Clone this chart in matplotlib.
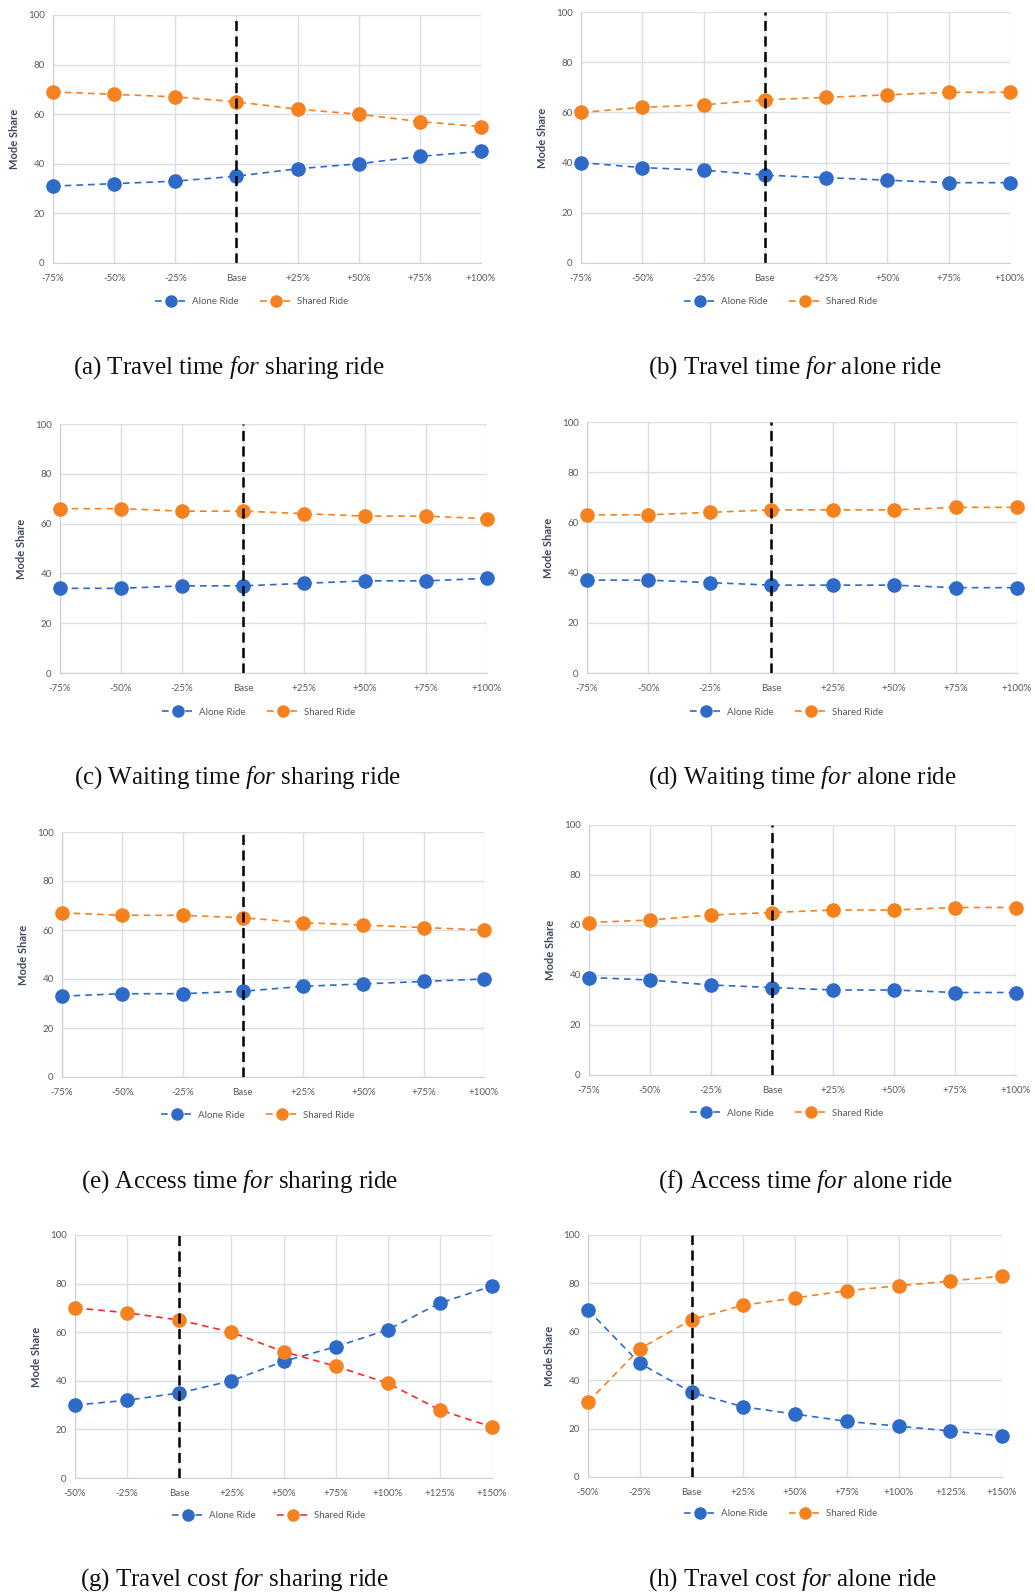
import matplotlib
matplotlib.use("Agg")
import matplotlib.pyplot as plt

# ---------------- data ----------------
labels_time = ["-75%", "-50%", "-25%", "Base", "+25%", "+50%", "+75%", "+100%"]
labels_cost = ["-50%", "-25%", "Base", "+25%", "+50%", "+75%", "+100%", "+125%", "+150%"]

a_alone = [31, 32, 33, 35, 38, 40, 43, 45]
a_shared = [69, 68, 67, 65, 62, 60, 57, 55]
b_alone = [40, 38, 37, 35, 34, 33, 32, 32]
b_shared = [60, 62, 63, 65, 66, 67, 68, 68]
c_alone = [34, 34, 35, 35, 36, 37, 37, 38]
c_shared = [66, 66, 65, 65, 64, 63, 63, 62]
d_alone = [37, 37, 36, 35, 35, 35, 34, 34]
d_shared = [63, 63, 64, 65, 65, 65, 66, 66]
e_alone = [33, 34, 34, 35, 37, 38, 39, 40]
e_shared = [67, 66, 66, 65, 63, 62, 61, 60]
f_alone = [39, 38, 36, 35, 34, 34, 33, 33]
f_shared = [61, 62, 64, 65, 66, 66, 67, 67]
g_alone = [30, 32, 35, 40, 48, 54, 61, 72, 79]
g_shared = [70, 68, 65, 60, 52, 46, 39, 28, 21]
h_alone = [69, 47, 35, 29, 26, 23, 21, 19, 17]
h_shared = [31, 53, 65, 71, 74, 77, 79, 81, 83]

captions = [
    ("(a) Travel time ", "sharing ride"),
    ("(b) Travel time ", "alone ride"),
    ("(c) Waiting time ", "sharing ride"),
    ("(d) Waiting time ", "alone ride"),
    ("(e) Access time ", "sharing ride"),
    ("(f) Access time ", "alone ride"),
    ("(g) Travel cost ", "sharing ride"),
    ("(h) Travel cost ", "alone ride"),
]

# ---------------- style ----------------
W, H = 1035, 1592
plt.rcParams["mathtext.fontset"] = "custom"
plt.rcParams["mathtext.rm"] = "Liberation Serif"
plt.rcParams["mathtext.it"] = "Liberation Serif:italic"

BLUE = "#2E6AC8"
ORANGE = "#F5821F"
RED = "#F52A2A"
GRID = "#D9DEE8"
TXT = "#595959"
UI_FONT = "Lato"

# pixel layout: (left, right, top, bottom), legend center (x, y), caption center (x, y)
layout = [
    ((53, 481, 15, 263), (252, 302), (229, 368)),
    ((581, 1010, 12, 263), (781, 302), (795, 368)),
    ((60, 487, 424, 673), (259, 712), (237, 778)),
    ((587, 1017, 422, 673), (787, 712), (802, 778)),
    ((62, 484, 832, 1077), (258, 1115), (240, 1182)),
    ((589, 1016, 825, 1075), (787, 1113), (805, 1182)),
    ((75, 492, 1235, 1478), (269, 1516), (234, 1580)),
    ((588, 1002, 1235, 1477), (781, 1514), (793, 1580)),
]

panels = [
    (labels_time, a_alone, a_shared, ORANGE),
    (labels_time, b_alone, b_shared, ORANGE),
    (labels_time, c_alone, c_shared, ORANGE),
    (labels_time, d_alone, d_shared, ORANGE),
    (labels_time, e_alone, e_shared, ORANGE),
    (labels_time, f_alone, f_shared, ORANGE),
    (labels_cost, g_alone, g_shared, RED),
    (labels_cost, h_alone, h_shared, ORANGE),
]

fig = plt.figure(figsize=(W / 100, H / 100), dpi=100)

for (labels, alone, shared, shared_line), (box, leg, cap), (cap1, cap2) in zip(panels, layout, captions):
    l, r, t, b = box
    ax = fig.add_axes([l / W, 1 - b / H, (r - l) / W, (b - t) / H])
    x = list(range(len(labels)))
    la, = ax.plot(x, alone, linestyle=(0, (4, 3)), color=BLUE, lw=1.2,
                  marker="o", markersize=9.5, markerfacecolor=BLUE,
                  markeredgecolor=BLUE, clip_on=False, zorder=3, label="Alone Ride")
    ls, = ax.plot(x, shared, linestyle=(0, (4, 3)), color=shared_line, lw=1.2,
                  marker="o", markersize=9.5, markerfacecolor=ORANGE,
                  markeredgecolor=ORANGE, clip_on=False, zorder=3, label="Shared Ride")
    base_idx = labels.index("Base")
    ax.axvline(base_idx, color="black", lw=1.8, linestyle=(0, (4, 2.2)), zorder=4)

    ax.set_xlim(0, len(labels) - 1)
    ax.set_ylim(0, 100)
    ax.set_yticks([0, 20, 40, 60, 80, 100])
    ax.set_xticks(x)
    ax.set_xticklabels(labels)
    ax.grid(True, color=GRID, lw=1.0)
    ax.set_axisbelow(True)
    for s in ("top", "right"):
        ax.spines[s].set_visible(False)
    ax.spines["left"].set_color("#C8D0DE")
    ax.spines["bottom"].set_color("#CDD2DA")
    ax.tick_params(axis="x", length=0, labelsize=7, labelcolor=TXT, pad=8)
    ax.tick_params(axis="y", length=0, labelsize=7, labelcolor=TXT, pad=6)
    for lab in ax.get_xticklabels() + ax.get_yticklabels():
        lab.set_fontfamily(UI_FONT)
    ax.set_ylabel("Mode Share", fontsize=8, fontweight="bold", color="#3E4A5E",
                  fontfamily=UI_FONT, labelpad=6)

    leg_obj = fig.legend(handles=[la, ls], loc="center",
                         bbox_to_anchor=(leg[0] / W, 1 - leg[1] / H),
                         ncol=2, frameon=False, handlelength=3.2,
                         columnspacing=2.2, handletextpad=0.6,
                         prop={"family": UI_FONT, "size": 7})
    for txt in leg_obj.get_texts():
        txt.set_color(TXT)
    for h in leg_obj.legend_handles:
        h.set_markersize(8)

    fig.text(cap[0] / W, 1 - cap[1] / H,
             cap1 + r"$\mathit{for}$" + " " + cap2,
             ha="center", va="center", fontsize=18, family="Liberation Serif",
             color="#111111")

fig.savefig("out.png", dpi=100, facecolor="white")
